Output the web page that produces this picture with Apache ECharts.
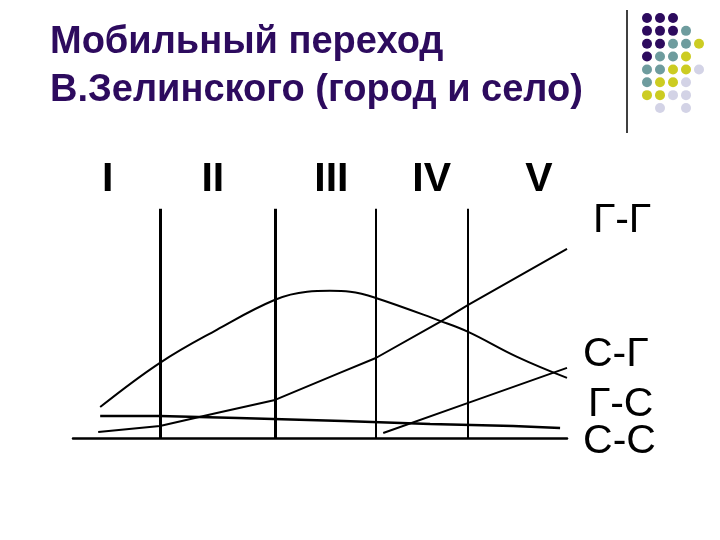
<!DOCTYPE html>
<html>
<head>
<meta charset="utf-8">
<script src="https://cdn.jsdelivr.net/npm/echarts@6/dist/echarts.min.js"></script>
<style>
  html, body { margin: 0; padding: 0; background: #fff; }
  #chart { width: 720px; height: 540px; }
</style>
</head>
<body>
<div id="chart"></div>
<script>
  // этапы мобильного перехода
  const stageNames = ['I', 'II', 'III', 'IV', 'V'];
  const stageLabelX = [7.0, 28.3, 52.3, 72.6, 94.3];
  const stageBounds = [17.6, 40.9, 61.3, 80.0];

  // потоки миграции (x: время, y: интенсивность)
  const seriesNames = ['Г-Г', 'С-Г', 'Г-С', 'С-С'];
  const ggValues = [[5.1, 2.6], [17.6, 5.2], [29.1, 10.9], [40.9, 16.6], [54.0, 28.4], [61.3, 34.9], [74.3, 50.7], [80.0, 58.1], [100, 82.5]];
  const sgValues = [[5.5, 13.5], [17.6, 32.8], [29.1, 47.2], [40.9, 60.3], [47.4, 63.8], [52.0, 64.2], [56.1, 63.8], [61.3, 61.1], [74.3, 51.1], [80.0, 46.3], [89.9, 35.4], [100, 26.2]];
  const gsValues = [[62.8, 2.2], [80.0, 15.3], [100, 30.6]];
  const ssValues = [[5.5, 9.6], [17.6, 9.6], [33.4, 8.7], [54.7, 7.4], [72.3, 6.1], [89.1, 5.2], [98.6, 4.4]];

  // декоративные точки в углу: ряд, колонка, цвет
  const dotRows = [0, 0, 0, 1, 1, 1, 1, 2, 2, 2, 2, 2, 3, 3, 3, 3, 4, 4, 4, 4, 4, 5, 5, 5, 5, 6, 6, 6, 6, 7, 7];
  const dotCols = [0, 1, 2, 0, 1, 2, 3, 0, 1, 2, 3, 4, 0, 1, 2, 3, 0, 1, 2, 3, 4, 0, 1, 2, 3, 0, 1, 2, 3, 1, 3];
  const dotKinds = ['p', 'p', 'p', 'p', 'p', 'p', 't', 'p', 'p', 't', 't', 'y', 'p', 't', 't', 'y', 't', 't', 'y', 'y', 'l', 't', 'y', 'y', 'l', 'y', 'y', 'l', 'l', 'l', 'l'];
  const dotColors = { p: '#2d0b5e', t: '#6e9c9e', y: '#cccc22', l: '#d3d3e6' };

  const font = "'Liberation Sans', Arial, sans-serif";
  const labelOffsets = [[26, -28], [16, -23], [21, 37], [23, 14]];
  const lineSets = [ggValues, sgValues, gsValues, ssValues];

  let eChart = echarts.init(document.getElementById('chart'));

  let series = lineSets.map(function (vals, i) {
    return {
      name: seriesNames[i],
      type: 'line',
      data: vals,
      smooth: i === 1 ? 0.4 : false,
      symbol: 'none',
      lineStyle: { color: '#000', width: i === 3 ? 2.5 : 2 },
      endLabel: {
        show: true,
        formatter: seriesNames[i],
        fontFamily: font,
        fontSize: 41,
        color: '#000',
        distance: 0,
        offset: labelOffsets[i]
      },
      silent: true
    };
  });

  // границы этапов
  series[0].markLine = {
    silent: true,
    symbol: 'none',
    label: { show: false },
    lineStyle: { color: '#000', width: 2, type: 'solid' },
    data: stageBounds.map(function (x, i) {
      return [
        { coord: [x, 0], lineStyle: { width: i < 2 ? 3 : 2 } },
        { coord: [x, 100] }
      ];
    })
  };

  // подписи этапов
  series.push({
    type: 'scatter',
    data: stageLabelX.map(function (x) { return [x, 112.8]; }),
    symbolSize: 0,
    silent: true,
    itemStyle: { opacity: 1 },
    label: {
      show: true,
      position: 'inside',
      formatter: function (p) { return stageNames[p.dataIndex]; },
      fontFamily: font,
      fontWeight: 'bold',
      fontSize: 41,
      color: '#000',
      opacity: 1
    }
  });

  series.push({
    type: 'scatter',
    xAxisIndex: 1,
    yAxisIndex: 1,
    data: dotRows.map(function (r, i) {
      return { value: [dotCols[i], r], itemStyle: { color: dotColors[dotKinds[i]], opacity: 1 } };
    }),
    symbolSize: 10,
    silent: true
  });

  eChart.setOption({
    animation: false,
    title: {
      text: 'Мобильный переход\nВ.Зелинского (город и село)',
      left: 45,
      top: 14,
      textStyle: {
        fontFamily: font,
        fontWeight: 'bold',
        fontSize: 38,
        lineHeight: 48,
        color: '#2d0b5e'
      }
    },
    grid: [
      { left: 73, right: 153, top: 140, bottom: 102 },
      { left: 647, width: 52, top: 18, height: 90 }
    ],
    xAxis: [
      {
        type: 'value',
        min: 0,
        max: 100,
        axisLine: { show: true, lineStyle: { color: '#000', width: 2.5 } },
        axisTick: { show: false },
        axisLabel: { show: false },
        splitLine: { show: false }
      },
      { type: 'value', gridIndex: 1, min: 0, max: 4, show: false }
    ],
    yAxis: [
      { type: 'value', min: 0, max: 130, show: false },
      { type: 'value', gridIndex: 1, min: 0, max: 7, inverse: true, show: false }
    ],
    graphic: [{
      type: 'line',
      shape: { x1: 627, y1: 10, x2: 627, y2: 133 },
      style: { stroke: '#000', lineWidth: 1.5 },
      silent: true
    }],
    series: series
  });
</script>
</body>
</html>
